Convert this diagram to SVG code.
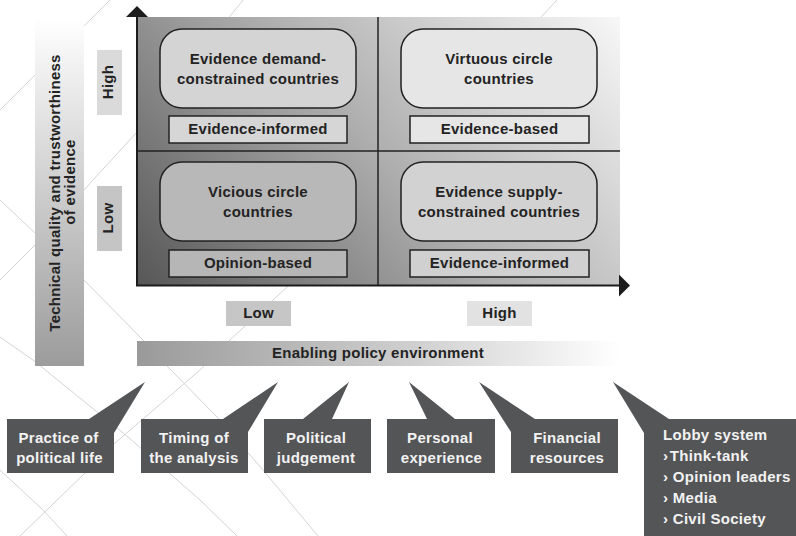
<svg xmlns="http://www.w3.org/2000/svg" width="796" height="536" viewBox="0 0 796 536">
  <style>
    .t { font-family: "Liberation Sans", Arial, sans-serif; font-weight: bold; font-size: 15px; letter-spacing: 0.25px; fill: #232323; text-anchor: middle; }
    .w { font-family: "Liberation Sans", Arial, sans-serif; font-weight: bold; font-size: 15px; letter-spacing: 0.3px; fill: #f2f2f2; text-anchor: middle; }
    .wl { text-anchor: start; }
    .bg { fill: none; stroke: #d4d4d4; stroke-width: 1; }
    .oval { stroke: #222; stroke-width: 1.5; }
    .tag { stroke: #222; stroke-width: 1.5; }
    .callout { fill: #545557; }
    .axis { stroke: #1c1c1c; stroke-width: 2; fill: none; }
    .div { stroke: #222; stroke-width: 1.5; }
  </style>
  <defs>
    <linearGradient id="panelGrad" gradientUnits="userSpaceOnUse" x1="137" y1="286" x2="541" y2="-71">
      <stop offset="0" stop-color="#565656"/>
      <stop offset="0.5" stop-color="#aeaeae"/>
      <stop offset="1" stop-color="#f7f7f7"/>
    </linearGradient>
    <linearGradient id="vBarGrad" x1="0" y1="0" x2="0" y2="1">
      <stop offset="0" stop-color="#ffffff"/>
      <stop offset="0.15" stop-color="#f0f0f0"/>
      <stop offset="1" stop-color="#9c9c9c"/>
    </linearGradient>
    <linearGradient id="hBarGrad" x1="0" y1="0" x2="1" y2="0">
      <stop offset="0" stop-color="#9a9a9a"/>
      <stop offset="0.55" stop-color="#cdcdcd"/>
      <stop offset="1" stop-color="#ffffff"/>
    </linearGradient>
    <marker id="arrow" markerUnits="userSpaceOnUse" markerWidth="12" markerHeight="22" refX="0" refY="11" orient="auto">
      <path d="M0,0 L11,11 L0,22 Z" fill="#1c1c1c"/>
    </marker>
  </defs>

  <rect width="796" height="536" fill="#ffffff"/>

  <!-- faint decorative background grid -->
  <g id="background-lines">
    <path class="bg" d="M0,110 L110,0"/>
    <path class="bg" d="M0,280 L35,245 L93,180 L137,132 L190,66 L243,0"/>
    <path class="bg" d="M0,200 L35,233 L84,280 L143,340 L167,366 L217,417 L263,470 L318,536"/>
    <path class="bg" d="M0,337 L33,360 L128,437 L200,500 L237,536"/>
    <path class="bg" d="M557,0 L542,16 L287,287 L230,340 L200,370 L115,443 L85,473 L20,536"/>
    <path class="bg" d="M0,470 L43,510 L67,536"/>
  </g>

  <!-- vertical axis title bar -->
  <g id="y-title">
    <rect x="35" y="18" width="49" height="348" fill="url(#vBarGrad)"/>
    <text class="t" transform="translate(60,193) rotate(-90)">Technical quality and trustworthiness</text>
    <text class="t" transform="translate(74.5,182) rotate(-90)">of evidence</text>
  </g>

  <g id="y-high">
    <rect x="97" y="50" width="25" height="65" fill="#dadada"/>
    <text class="t" transform="translate(113.3,82) rotate(-90)">High</text>
  </g>
  <g id="y-low">
    <rect x="97" y="186" width="25" height="65" fill="#c5c5c5"/>
    <text class="t" transform="translate(113.3,218) rotate(-90)">Low</text>
  </g>

  <!-- quadrant panel -->
  <g id="panel">
    <rect x="137" y="17" width="483" height="269" fill="url(#panelGrad)"/>
    <line class="div" x1="378" y1="17" x2="378" y2="286"/>
    <line class="div" x1="137" y1="151" x2="620" y2="151"/>
  </g>

  <g id="q-demand">
    <rect class="oval" x="160" y="29" width="196" height="79" rx="22" fill="#d4d4d4"/>
    <text class="t" x="258" y="63.5">Evidence demand-</text>
    <text class="t" x="258" y="83.5">constrained countries</text>
    <rect class="tag" x="169" y="116" width="178" height="27" fill="#d6d6d6"/>
    <text class="t" x="258" y="133.5">Evidence-informed</text>
  </g>

  <g id="q-virtuous">
    <rect class="oval" x="401" y="29" width="196" height="79" rx="22" fill="#e6e6e6"/>
    <text class="t" x="499" y="63.5">Virtuous circle</text>
    <text class="t" x="499" y="83.5">countries</text>
    <rect class="tag" x="410" y="116" width="179" height="27" fill="#e6e6e6"/>
    <text class="t" x="499.5" y="133.5">Evidence-based</text>
  </g>

  <g id="q-vicious">
    <rect class="oval" x="160" y="162" width="196" height="79" rx="22" fill="#b8b8b8"/>
    <text class="t" x="258" y="196.5">Vicious circle</text>
    <text class="t" x="258" y="216.5">countries</text>
    <rect class="tag" x="169" y="250" width="178" height="27" fill="#b6b6b6"/>
    <text class="t" x="258" y="268">Opinion-based</text>
  </g>

  <g id="q-supply">
    <rect class="oval" x="401" y="162" width="196" height="79" rx="22" fill="#d2d2d2"/>
    <text class="t" x="499" y="196.5">Evidence supply-</text>
    <text class="t" x="499" y="216.5">constrained countries</text>
    <rect class="tag" x="410" y="250" width="179" height="27" fill="#d0d0d0"/>
    <text class="t" x="499.5" y="268">Evidence-informed</text>
  </g>

  <!-- axes -->
  <g id="connectors">
    <line class="axis" x1="137" y1="286" x2="137" y2="17" marker-end="url(#arrow)"/>
    <line class="axis" x1="136" y1="285.5" x2="619" y2="285.5" marker-end="url(#arrow)"/>
  </g>

  <g id="x-low">
    <rect x="226" y="301" width="65" height="25" fill="#c6c6c6"/>
    <text class="t" x="258.5" y="318">Low</text>
  </g>
  <g id="x-high">
    <rect x="467" y="301" width="65" height="25" fill="#e2e2e2"/>
    <text class="t" x="499.5" y="318">High</text>
  </g>

  <g id="x-title">
    <rect x="137" y="341" width="483" height="25" fill="url(#hBarGrad)"/>
    <text class="t" x="378" y="358">Enabling policy environment</text>
  </g>

  <!-- factor callouts -->
  <g id="c-practice">
    <path class="callout" d="M7,419 H89 L145,382 L114,433 V473 H7 Z"/>
    <text class="w" x="58.5" y="442.5">Practice of</text>
    <text class="w" x="59.5" y="463">political life</text>
  </g>
  <g id="c-timing">
    <path class="callout" d="M141,419 H223 L278,382 L248,432 V473 H141 Z"/>
    <text class="w" x="194" y="442.5">Timing of</text>
    <text class="w" x="194" y="463">the analysis</text>
  </g>
  <g id="c-political">
    <path class="callout" d="M264,419 H303 L349,382 L332,419 H371 V473 H264 Z"/>
    <text class="w" x="316" y="442.5">Political</text>
    <text class="w" x="316" y="463">judgement</text>
  </g>
  <g id="c-personal">
    <path class="callout" d="M387,419 H427 L409,382 L455,419 H495 V473 H387 Z"/>
    <text class="w" x="440" y="442.5">Personal</text>
    <text class="w" x="441.5" y="463">experience</text>
  </g>
  <g id="c-financial">
    <path class="callout" d="M479,382 L535,419 H618 V473 H511 V432 Z"/>
    <text class="w" x="567" y="442.5">Financial</text>
    <text class="w" x="567" y="463">resources</text>
  </g>
  <g id="c-lobby">
    <path class="callout" d="M613,382 L669,419 H796 V536 H644 V433 Z"/>
    <text class="w wl" x="663" y="440">Lobby system</text>
    <text class="w wl" x="663" y="461">›<tspan dx="1.5">Think-tank</tspan></text>
    <text class="w wl" x="663" y="482">› Opinion leaders</text>
    <text class="w wl" x="663" y="503">› Media</text>
    <text class="w wl" x="663" y="524">› Civil Society</text>
  </g>
</svg>
